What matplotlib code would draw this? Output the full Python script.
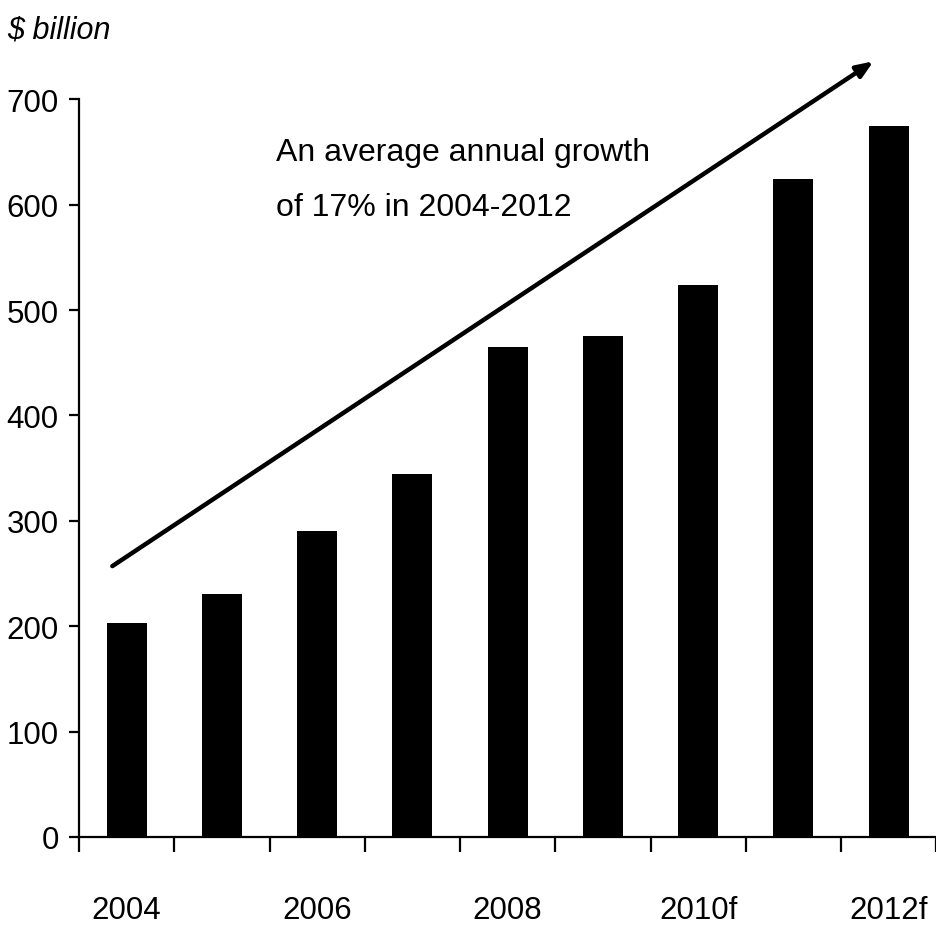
import numpy as np
import matplotlib.pyplot as plt

years = ['2004', '2005', '2006', '2007', '2008', '2009', '2010f', '2011f', '2012f']
values = [203, 231, 290, 344, 465, 475, 524, 624, 675]
shown_labels = ['2004', '', '2006', '', '2008', '', '2010f', '', '2012f']
yticks = [0, 100, 200, 300, 400, 500, 600, 700]

plt.rcParams['font.family'] = ['Liberation Sans', 'DejaVu Sans']

fig = plt.figure(figsize=(9.36, 9.28), dpi=100)
ax = fig.add_axes([0.0844, 0.097, 0.916, 0.795])

x = np.arange(len(years))
ax.bar(x, values, width=0.42, color='black')

ax.set_xlim(-0.5, len(years) - 0.5)
ax.set_ylim(0, 700)

for side in ['top', 'right']:
    ax.spines[side].set_visible(False)
for side in ['left', 'bottom']:
    ax.spines[side].set_linewidth(1.6)

ax.set_yticks(yticks)
ax.set_yticklabels([str(v) for v in yticks], fontsize=22.5)
ax.tick_params(axis='y', length=7, width=1.6, pad=7.5)

# boundaries between years get ticks, labels sit under the bars
ax.set_xticks(np.arange(len(years) + 1) - 0.5)
ax.set_xticklabels([])
ax.tick_params(axis='x', which='major', length=11, width=1.6, direction='out')
ax.set_xticks(x, minor=True)
ax.set_xticklabels(shown_labels, minor=True, fontsize=22.5)
ax.tick_params(axis='x', which='minor', length=0, pad=42)

fig.text(0.008, 0.967, '$ billion', fontsize=22, style='italic', va='center', ha='left')

ax.annotate('', xy=(7.84, 736), xytext=(-0.15, 257),
            arrowprops=dict(arrowstyle='-|>,head_length=1.0,head_width=0.4',
                            lw=3.2, color='black', shrinkA=0, shrinkB=0),
            annotation_clip=False)

ax.text(1.57, 664, 'An average annual growth\nof 17% in 2004-2012',
        fontsize=23, va='top', ha='left', linespacing=2.1)

fig.savefig('out.png', dpi=100)
